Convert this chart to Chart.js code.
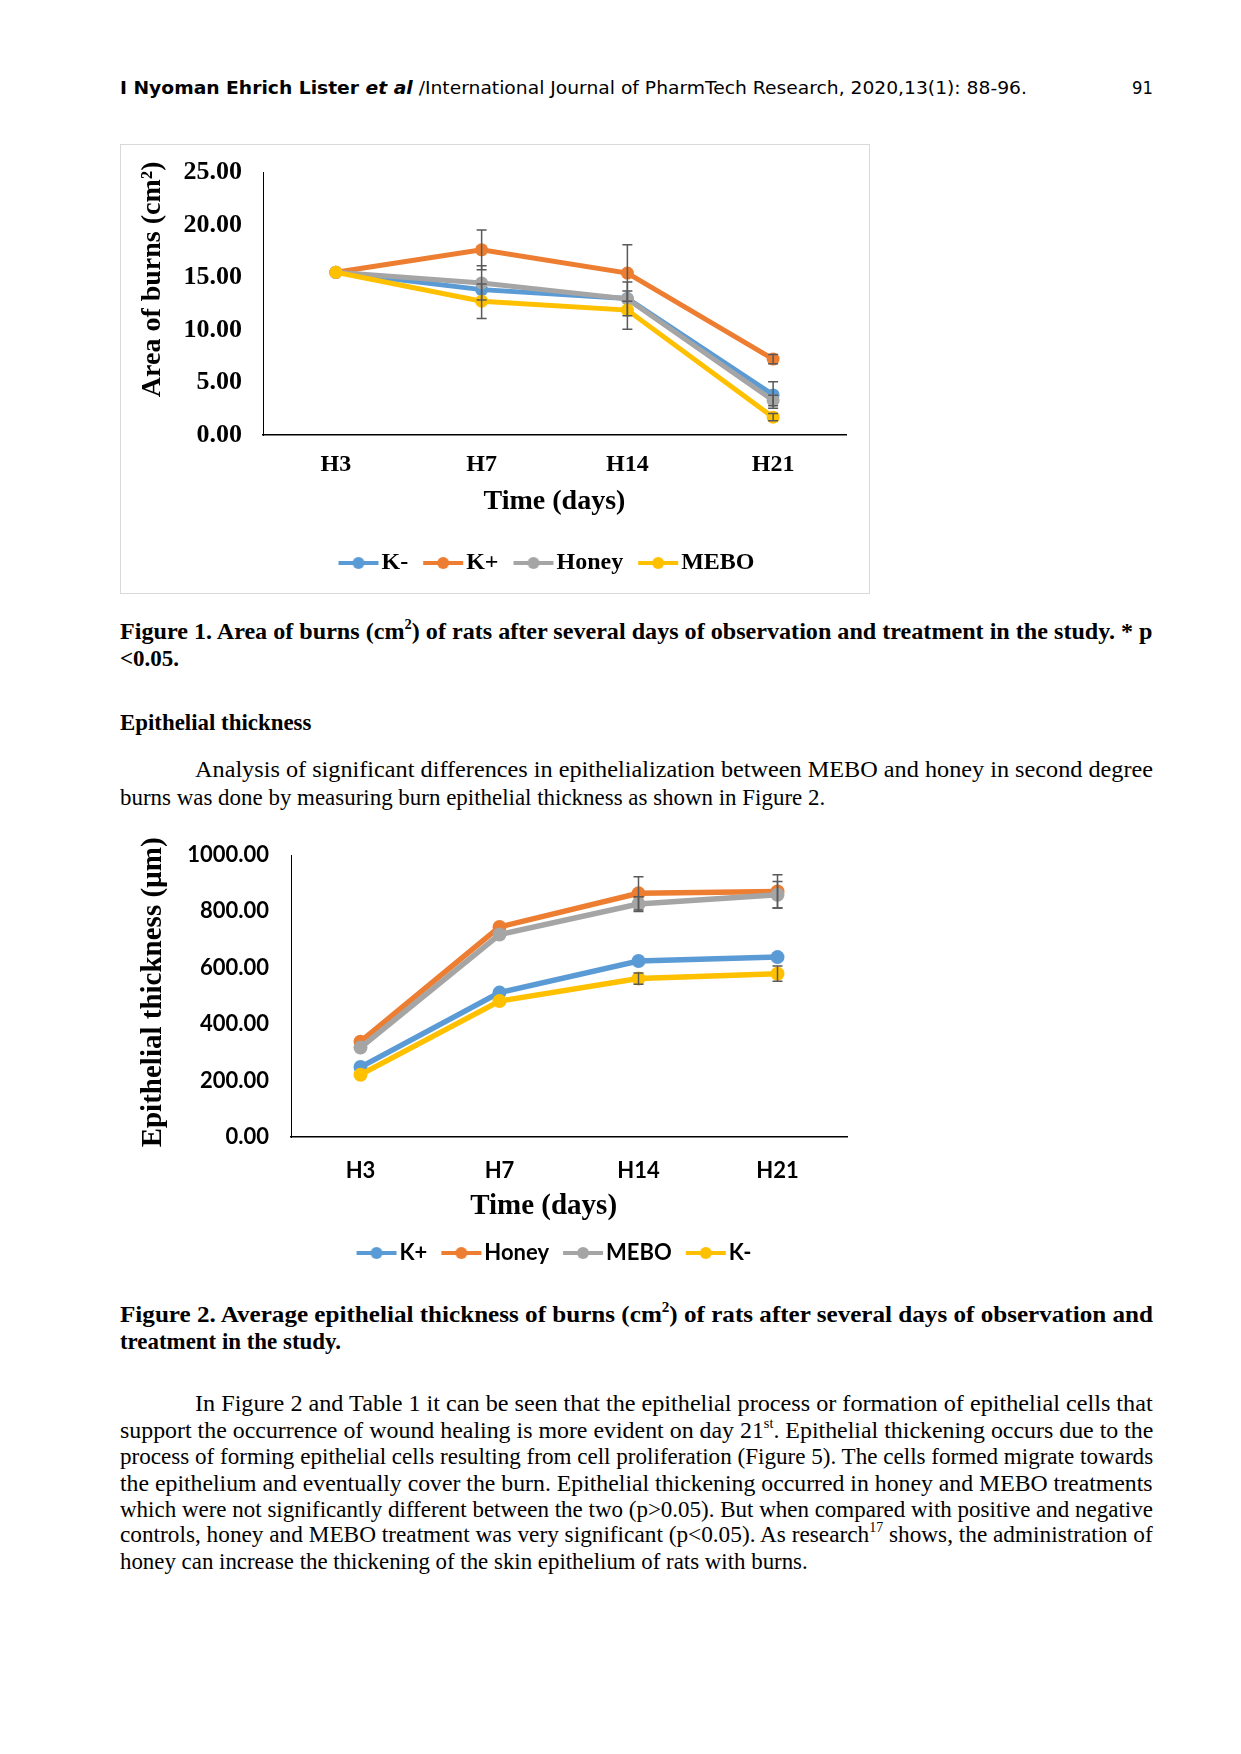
<!DOCTYPE html>
<html>
<head>
<meta charset="utf-8">
<script src="https://cdn.jsdelivr.net/npm/chart.js@4.4.1/dist/chart.umd.min.js"></script>
<style>
html, body { margin: 0; padding: 0; background: #fff; }
body { width: 1241px; height: 1754px; position: relative; overflow: hidden; font-family: "Liberation Serif", "Times New Roman", serif; color: #000; }
.ln { position: absolute; white-space: nowrap; transform-origin: 0 50%; line-height: 26px; font-size: 23px; }
.b { font-weight: bold; }
.hd { font-family: "DejaVu Sans", sans-serif; font-size: 18px; }
sup { font-size: 0.6em; line-height: 0; vertical-align: 0.75em; }
#frame1 { position: absolute; left: 120px; top: 144px; width: 748px; height: 448px; border: 1px solid #d9d9d9; }
canvas { position: absolute; }
</style>
</head>
<body>

<div class="ln hd" data-x="120" data-y="88" data-w="907"><b>I Nyoman Ehrich Lister <i>et al</i></b> /International Journal of PharmTech Research, 2020,13(1): 88-96.</div>
<div class="ln hd" data-x="1132" data-y="88" data-w="21">91</div>

<div id="frame1"></div>
<canvas id="burnChart" width="848" height="450" style="left:120px;top:144px"></canvas>

<div class="ln b" data-x="120" data-y="632" data-w="1033">Figure 1. Area of burns (cm<sup>2</sup>) of rats after several days of observation and treatment in the study. * p</div>
<div class="ln b" data-x="120" data-y="659" data-w="59">&lt;0.05.</div>

<div class="ln b" data-x="120" data-y="723" data-w="191">Epithelial thickness</div>

<div class="ln" data-x="195" data-y="770" data-w="958">Analysis of significant differences in epithelialization between MEBO and honey in second degree</div>
<div class="ln" data-x="120" data-y="798" data-w="705">burns was done by measuring burn epithelial thickness as shown in Figure 2.</div>

<canvas id="epiChart" width="864" height="450" style="left:120px;top:826px"></canvas>

<div class="ln b" data-x="120" data-y="1315" data-w="1033">Figure 2. Average epithelial thickness of burns (cm<sup>2</sup>) of rats after several days of observation and</div>
<div class="ln b" data-x="120" data-y="1342" data-w="221">treatment in the study.</div>

<div class="ln" data-x="195" data-y="1404" data-w="958">In Figure 2 and Table 1 it can be seen that the epithelial process or formation of epithelial cells that</div>
<div class="ln" data-x="120" data-y="1431" data-w="1033">support the occurrence of wound healing is more evident on day 21<sup>st</sup>. Epithelial thickening occurs due to the</div>
<div class="ln" data-x="120" data-y="1457" data-w="1033">process of forming epithelial cells resulting from cell proliferation (Figure 5). The cells formed migrate towards</div>
<div class="ln" data-x="120" data-y="1484" data-w="1033">the epithelium and eventually cover the burn. Epithelial thickening occurred in honey and MEBO treatments</div>
<div class="ln" data-x="120" data-y="1510" data-w="1033">which were not significantly different between the two (p&gt;0.05). But when compared with positive and negative</div>
<div class="ln" data-x="120" data-y="1535" data-w="1033">controls, honey and MEBO treatment was very significant (p&lt;0.05). As research<sup>17</sup> shows, the administration of</div>
<div class="ln" data-x="120" data-y="1562" data-w="688">honey can increase the thickening of the skin epithelium of rats with burns.</div>

<script>
// --- data ---
const days = ['H3', 'H7', 'H14', 'H21'];

// Figure 1: area of burns (cm2)
const burnKMinus = [15.5, 13.85, 13.0, 3.82];
const burnKPlus = [15.5, 17.64, 15.43, 7.23];
const burnHoney = [15.5, 14.49, 12.97, 3.29];
const burnMebo = [15.5, 12.75, 11.9, 1.70];
const burnErrKMinus = [0, 0, 0, 1.26];
const burnErrKPlus = [0, 1.9, 2.69, 0.45];
const burnErrHoney = [0, 1.63, 1.6, 0.5];
const burnErrMebo = [0, 1.64, 1.83, 0.35];
const burnTicks = [0, 5, 10, 15, 20, 25];

// Figure 2: epithelial thickness (um)
const epiKPlus = [248, 512, 624, 638];
const epiHoney = [338, 745, 864, 871];
const epiMebo = [317, 718, 826, 859];
const epiKMinus = [221, 482, 562, 579];
const epiErrKPlus = [0, 0, 0, 0];
const epiErrHoney = [0, 0, 59, 59];
const epiErrMebo = [0, 0, 26, 47];
const epiErrKMinus = [0, 0, 20, 27];
const epiTicks = [0, 200, 400, 600, 800, 1000];

const BLUE = '#5B9BD5', ORANGE = '#ED7D31', GRAY = '#A5A5A5', YELLOW = '#FFC000';
const NB = '\u00A0';

// text lines: place and squeeze to the measured widths
document.querySelectorAll('.ln').forEach(el => {
    el.style.left = el.dataset.x + 'px';
    el.style.top = (el.dataset.y - 13) + 'px';
    const w = el.offsetWidth;
    el.style.transform = 'scaleX(' + (el.dataset.w / w) + ')';
});

// legend sample: a 40px line with a dot, ending 3px before the label
function legendMark(color, fontSize, boxW) {
    const iw = 2 * (boxW / 2 + fontSize / 2 + 1);
    const c = document.createElement('canvas');
    c.width = iw; c.height = 14;
    const g = c.getContext('2d');
    const end = iw / 2 + boxW / 2 + fontSize / 2 - 3;
    const start = end - 40;
    g.strokeStyle = color; g.lineWidth = 4;
    g.beginPath(); g.moveTo(start, 7); g.lineTo(end, 7); g.stroke();
    g.fillStyle = color;
    g.beginPath(); g.arc((start + end) / 2, 7, 6, 0, Math.PI * 2); g.fill();
    return c;
}

const errorBars = {
    id: 'errorBars',
    afterDatasetsDraw(chart) {
        const { ctx, scales: { x, y } } = chart;
        ctx.save();
        ctx.strokeStyle = '#595959';
        ctx.lineWidth = 1.5;
        chart.data.datasets.forEach(ds => {
            ds.data.forEach((v, j) => {
                const e = ds.errors[j];
                if (!e) return;
                const px = x.getPixelForValue(j);
                const top = y.getPixelForValue(v + e), bot = y.getPixelForValue(v - e);
                ctx.beginPath();
                ctx.moveTo(px, top); ctx.lineTo(px, bot);
                ctx.moveTo(px - 5, top); ctx.lineTo(px + 5, top);
                ctx.moveTo(px - 5, bot); ctx.lineTo(px + 5, bot);
                ctx.stroke();
            });
        });
        ctx.restore();
    }
};

// centre the legend on the whole canvas, not only the padded part
const legendSpan = {
    id: 'legendSpan',
    afterLayout(chart) {
        const l = chart.legend;
        l.left = 0; l.right = chart.width; l.width = chart.width;
    }
};

function series(label, data, errors, color, order, width, radius) {
    return {
        label, data, errors, order,
        borderColor: color, backgroundColor: color,
        borderWidth: width, pointRadius: radius, pointBorderWidth: 0,
        pointBackgroundColor: color, tension: 0
    };
}

function makeChart(id, cfg) {
    const serif = 'Liberation Serif';
    const fam = cfg.tickFamily;
    const boxW = 36;
    return new Chart(document.getElementById(id).getContext('2d'), {
        type: 'line',
        data: { labels: days, datasets: cfg.datasets },
        options: {
            responsive: false,
            animation: false,
            layout: { padding: cfg.padding },
            plugins: {
                tooltip: { enabled: false },
                legend: {
                    position: 'bottom',
                    labels: {
                        usePointStyle: true,
                        pointStyleWidth: boxW,
                        padding: 10,
                        color: '#000',
                        font: { family: fam, weight: 'bold', size: cfg.legendSize },
                        generateLabels: chart => chart.data.datasets.map((ds, i) => ({
                            text: ds.label,
                            pointStyle: legendMark(ds.borderColor, cfg.legendSize, boxW),
                            fillStyle: ds.borderColor,
                            strokeStyle: ds.borderColor,
                            lineWidth: 0,
                            hidden: false,
                            fontColor: '#000',
                            datasetIndex: i
                        }))
                    }
                }
            },
            scales: {
                x: {
                    offset: true,
                    grid: { display: false },
                    border: { display: true, color: '#000', width: 1.5 },
                    ticks: { color: '#000', padding: cfg.xTickPad, font: { family: fam, weight: 'bold', size: cfg.tickSize } },
                    title: { display: true, text: cfg.xTitle, color: '#000', padding: { top: 0, bottom: cfg.xTitlePad }, font: { family: serif, weight: 'bold', size: cfg.xTitleSize } },
                    afterFit(s) { s.height = cfg.xHeight; }
                },
                y: {
                    min: cfg.ticks[0],
                    max: cfg.ticks[cfg.ticks.length - 1],
                    afterBuildTicks(s) { s.ticks = cfg.ticks.map(v => ({ value: v })); },
                    grid: { display: false },
                    border: { display: true, color: '#000', width: 1 },
                    ticks: { color: '#000', padding: cfg.yTickPad, callback: v => v.toFixed(2), font: { family: fam, weight: 'bold', size: cfg.yTickSize } },
                    title: { display: true, text: cfg.yTitle, color: '#000', padding: { top: cfg.yTitlePad, bottom: 0 }, font: { family: serif, weight: 'bold', size: cfg.yTitleSize } },
                    afterFit(s) { s.width = cfg.yWidth; }
                }
            }
        },
        plugins: [errorBars, legendSpan]
    });
}

makeChart('burnChart', {
    datasets: [
        series('K-', burnKMinus, burnErrKMinus, BLUE, 4, 5, 6.5),
        series('K+', burnKPlus, burnErrKPlus, ORANGE, 3, 5, 6.5),
        series('Honey', burnHoney, burnErrHoney, GRAY, 2, 5, 6.5),
        series('MEBO', burnMebo, burnErrMebo, YELLOW, 1, 5, 6.5)
    ],
    ticks: burnTicks,
    tickFamily: 'Liberation Serif',
    padding: { top: 16, right: 122, bottom: 9, left: 0 },
    tickSize: 24, yTickSize: 26, legendSize: 24,
    xTickPad: 7, xTitlePad: 22, xTitleSize: 28, xHeight: 106, xTitle: 'Time (days)',
    yTickPad: 13, yTitle: NB.repeat(7) + 'Area of burns (cm²)', yTitlePad: 16, yTitleSize: 28, yWidth: 143
});

makeChart('epiChart', {
    datasets: [
        series('K+', epiKPlus, epiErrKPlus, BLUE, 4, 5.5, 7),
        series('Honey', epiHoney, epiErrHoney, ORANGE, 3, 5.5, 7),
        series('MEBO', epiMebo, epiErrMebo, GRAY, 2, 5.5, 7),
        series('K-', epiKMinus, epiErrKMinus, YELLOW, 1, 5.5, 7)
    ],
    ticks: epiTicks,
    tickFamily: 'Lato',
    padding: { top: 29, right: 137, bottom: 2, left: 0 },
    tickSize: 22, yTickSize: 22, legendSize: 22,
    xTickPad: 13, xTitlePad: 8, xTitleSize: 29, xHeight: 95, xTitle: 'Time (days)' + NB.repeat(7),
    yTickPad: 14, yTitle: NB + 'Epithelial thickness (µm)', yTitlePad: 16, yTitleSize: 29, yWidth: 171
});
</script>
</body>
</html>
